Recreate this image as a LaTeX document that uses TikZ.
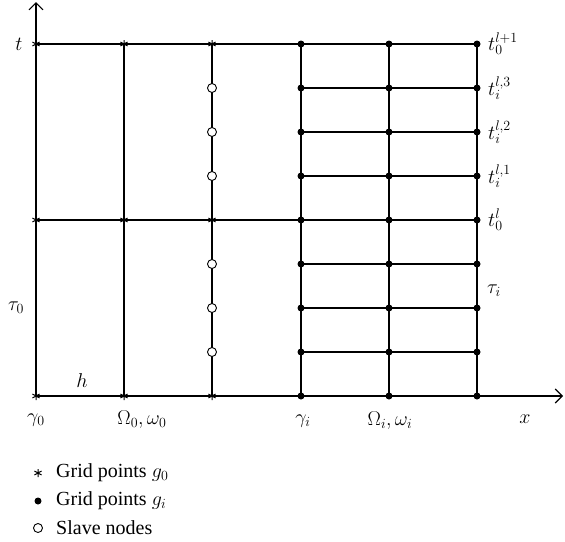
\RequirePackage{fix-cm}
\documentclass[tikz,border=0pt]{standalone}
\usepackage{fontspec}
\setmainfont{Liberation Serif}
\usetikzlibrary{arrows.meta}

\begin{document}
\begin{tikzpicture}[
		x=1pt, y=-1pt,
		font=\fontsize{20}{24}\selectfont,
		% --- line styles ---
		gridline/.style = {line width=1.1pt},
		axisline/.style = {line width=1.1pt, -{Straight Barb[length=7pt, width=14pt, line width=1.1pt]}},
		% --- point styles ---
		coarse_pt/.pic = {\draw [line width=1pt] (0,-4) -- (0,4) (-3.6,-2) -- (3.6,2) (-3.6,2) -- (3.6,-2);},
		fine_pt/.style = {circle, fill=black, inner sep=0pt, minimum size=7pt},
		slave_pt/.style = {circle, draw=black, fill=white, line width=0.9pt, inner sep=0pt, minimum size=9pt},
		lbl/.style = {inner sep=1pt}
		]
		\useasboundingbox (0,0) rectangle (565,541);
		
		% =========================================================================
		% 1. GRID COORDINATES
		% =========================================================================
		\coordinate (origin) at (36,396);
		\coordinate (t_end) at (36,2);
		\coordinate (x_end) at (563,396);
		\foreach \c/\x in {0/36, 1/124, 2/212, 3/301, 4/389, 5/477}
		\foreach \r in {0,...,8}
		\coordinate (g-\c-\r) at (\x,{44+44*\r});
		
		% =========================================================================
		% 2. LINES AND AXES
		% =========================================================================
		\draw [axisline] (origin) -- (t_end);
		\draw [axisline] (origin) -- (x_end);
		
		% vertical lines
		\foreach \c in {1,...,5}
		\draw [gridline] (g-\c-8) -- (g-\c-0);
		
		% coarse time levels
		\foreach \r in {0,4}
		\draw [gridline] (g-0-\r) -- (g-5-\r);
		
		% fine time levels
		\foreach \r in {1,2,3,5,6,7}
		\draw [gridline] (g-3-\r) -- (g-5-\r);
		
		% =========================================================================
		% 3. POINTS
		% =========================================================================
		\foreach \c in {0,1,2}
		\foreach \r in {0,4,8}
		\pic (a-\c-\r) at (g-\c-\r) {coarse_pt};
		
		\foreach \r in {1,2,3,5,6,7}
		\node [slave_pt] (s-\r) at (g-2-\r) {};
		
		\foreach \c in {3,4,5}
		\foreach \r in {0,...,8}
		\node [fine_pt] (f-\c-\r) at (g-\c-\r) {};
		
		% =========================================================================
		% 4. LABELS
		% =========================================================================
		\node [lbl] (lab_t) at (19,44) {$t$};
		\node [lbl] (lab_tau0) at (16,308) {$\tau_0$};
		\node [lbl] (lab_h) at (82,381) {$h$};
		
		\node [lbl] (lab_gamma0) at (36,420) {$\gamma_0$};
		\node [lbl] (lab_Omega0) at (142,420) {$\Omega_0,\omega_0$};
		\node [lbl] (lab_gammai) at (303,421) {$\gamma_i$};
		\node [lbl] (lab_Omegai) at (390,421) {$\Omega_i,\omega_i$};
		\node [lbl] (lab_x) at (525,419) {$x$};
		
		\node [lbl, anchor=west] (lab_tl1) at (487,44) {$t_0^{l+1}$};
		\node [lbl, anchor=west] (lab_t3) at (487,88) {$t_i^{l,3}$};
		\node [lbl, anchor=west] (lab_t2) at (487,132) {$t_i^{l,2}$};
		\node [lbl, anchor=west] (lab_t1) at (487,176) {$t_i^{l,1}$};
		\node [lbl, anchor=west] (lab_tl) at (487,220) {$t_0^{l}$};
		\node [lbl] (lab_taui) at (494,291) {$\tau_i$};
		
		% =========================================================================
		% 5. LEGEND
		% =========================================================================
		\coordinate (leg_ast) at (38,473);
		\pic at (leg_ast) {coarse_pt};
		\node [fine_pt] (leg_dot) at (38,501) {};
		\node [slave_pt] (leg_circ) at (38,528) {};
		\node [lbl, anchor=west] (leg_ast_txt) at (55,473) {Grid points $g_0$};
		\node [lbl, anchor=west] (leg_dot_txt) at (55,501) {Grid points $g_i$};
		\node [lbl, anchor=west] (leg_circ_txt) at (55,528) {Slave nodes};
		
	\end{tikzpicture}
\end{document}
